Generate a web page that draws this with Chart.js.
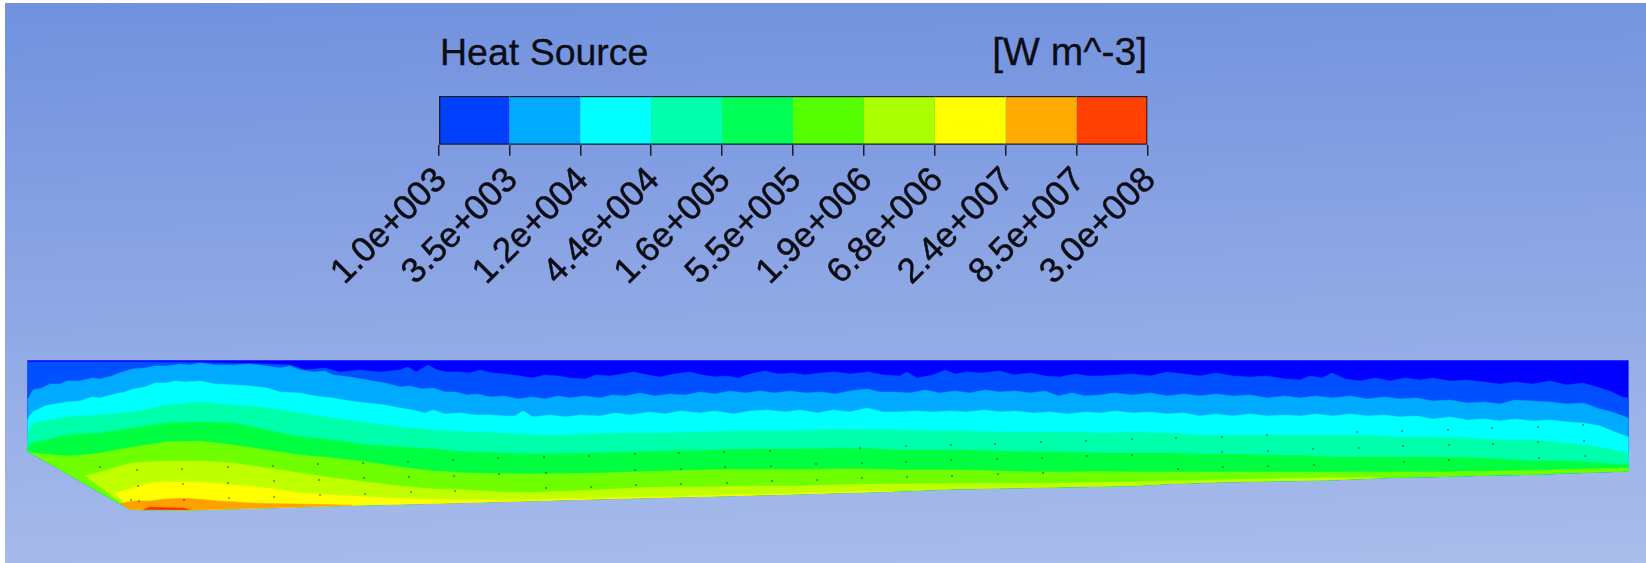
<!DOCTYPE html>
<html><head><meta charset="utf-8">
<script src="https://cdn.jsdelivr.net/npm/chart.js@4"></script>
<style>
html,body{margin:0;padding:0;width:1646px;height:563px;overflow:hidden;background:#fff}
#bg{position:absolute;left:5px;top:3px;right:0;bottom:0;background:linear-gradient(178.5deg,#7191de 0%,#aabdeb 100%)}
canvas{position:absolute}
.t{position:absolute;font:37.5px "Liberation Sans",Arial,sans-serif;color:#0c0c14;line-height:42px;white-space:nowrap;-webkit-text-stroke:0.3px #0c0c14}
</style></head><body>
<div id="bg"></div>
<div class="t" style="left:440px;top:31px">Heat Source</div>
<div class="t" style="right:499px;top:31px;font-size:39px">[W m^-3]</div>
<div style="position:absolute;left:250px;top:80px;width:950px;height:220px"><canvas id="bar"></canvas></div>
<div style="position:absolute;left:0;top:0;width:1646px;height:563px"><canvas id="field"></canvas></div>
<script>
const barTitle = 'Heat Source';
const tickLabels = ['1.0e+003','3.5e+003','1.2e+004','4.4e+004','1.6e+005','5.5e+005','1.9e+006','6.8e+006','2.4e+007','8.5e+007','3.0e+008'];
const legendColors = ['#0040ff','#00aaff','#00ffff','#00ffaa','#00ff55','#55ff00','#aaff00','#ffff00','#ffaa00','#ff4000'];
const binWidths = [1,1,1,1,1,1,1,1,1,1];
const bandColors = ['#0000ff','#0050ff','#00aaff','#00ffff','#00ffaa','#00ff40','#70ff00','#bfff00','#ffff00','#ffa000','#ff3000'];

// Outline of the section: [position along, height]
const topEdge = [[27.5,360.5],[1628,360.5]];
const bottomEdge = [[27.5,451],[130,509.5],[190,510],[243,508.5],[297,507],[352,505.3],[407,504],[460,502.7],[515,501.3],[568,499.7],[623,498.3],[677,497],[732,495.7],[786,494.3],[840,492.7],[893,491.3],[953,489],[1023,487.7],[1133,485.7],[1167,483.7],[1220,482],[1273,481],[1330,480],[1383,477.7],[1433,476.7],[1497,475],[1547,474],[1560,473.3],[1600,472],[1628,471]];

// Contour boundaries, top to bottom
const contourA = [[27.5,362],[140,362],[200,362.5],[267,364],[290,365],[305,370],[325,368],[340,372],[360,370],[380,372],[400,370],[408,367],[416,372],[428,365],[437,370],[447,372],[460,372],[470,373],[480,370],[492,373],[504,374],[520,376],[532,378],[545,375],[558,376],[570,378],[585,379],[596,375],[610,376],[622,374],[634,372],[648,375],[660,377],[674,374],[690,372],[702,375],[715,377],[727,376],[738,378],[750,374],[765,371],[778,374],[792,373],[805,375],[820,373],[835,372],[850,374],[868,372],[884,375],[900,376],[907,372],[917,378],[933,375],[945,370],[955,374],[967,372],[982,373],[1000,371],[1014,375],[1030,373],[1045,376],[1060,377],[1075,374],[1088,376],[1100,376],[1116,375],[1133,374],[1150,376],[1167,372],[1184,374],[1200,376],[1216,373],[1233,376],[1250,377],[1267,376],[1285,379],[1300,380],[1310,376],[1322,378],[1332,373],[1345,379],[1360,381],[1375,378],[1390,381],[1405,378],[1420,380],[1433,378],[1450,381],[1467,380],[1484,382],[1500,384],[1515,382],[1533,384],[1550,381],[1567,385],[1583,383],[1600,388],[1612,392],[1622,397],[1628,398]];
const contourB = [[27.5,400],[30,395],[33,390],[42,388],[50,384],[60,384],[67,381],[80,381],[92,378],[100,379],[112,376],[122,372],[133,369],[145,368],[155,366],[167,366],[180,364],[190,365],[200,363],[215,365],[233,365],[250,364],[267,366],[280,368],[290,366],[300,370],[315,372],[325,371],[333,375],[350,377],[367,380],[385,383],[400,387],[410,386],[422,389],[433,388],[445,392],[456,392],[467,395],[478,394],[490,397],[504,396],[518,399],[533,397],[545,399],[558,396],[570,398],[585,396],[600,398],[612,395],[625,396],[640,393],[655,396],[670,394],[685,395],[700,392],[715,394],[730,391],[745,393],[760,391],[775,393],[790,391],[805,393],[820,392],[835,394],[850,391],[867,389],[880,392],[895,392],[910,393],[925,390],[940,393],[955,391],[970,393],[985,390],[1000,392],[1015,391],[1030,393],[1045,391],[1058,396],[1072,393],[1085,396],[1100,395],[1115,393],[1133,395],[1150,393],[1167,396],[1184,394],[1200,396],[1216,394],[1233,396],[1250,395],[1267,398],[1285,396],[1300,398],[1315,396],[1333,398],[1350,396],[1367,399],[1385,397],[1400,399],[1416,398],[1433,401],[1450,400],[1467,403],[1484,402],[1500,404],[1515,400],[1533,401],[1550,402],[1567,404],[1583,403],[1600,409],[1612,412],[1628,418]];
const contourC = [[27.5,420],[30,415],[33,412],[45,406],[55,404],[67,402],[80,401],[92,397],[100,398],[115,394],[125,392],[133,389],[145,387],[155,383],[167,383],[175,381],[185,382],[200,381],[215,384],[233,385],[250,386],[267,388],[280,392],[300,393],[315,396],[333,398],[350,401],[367,403],[385,405],[400,408],[412,410],[425,413],[433,410],[445,414],[460,413],[475,415],[490,415],[505,416],[515,416],[523,411],[533,417],[550,415],[565,417],[580,415],[600,416],[615,413],[630,415],[650,412],[665,414],[680,411],[700,413],[715,411],[733,414],[750,411],[767,410],[785,412],[800,410],[818,413],[833,410],[850,412],[867,408],[883,412],[900,412],[915,411],[933,412],[950,411],[967,412],[985,410],[1000,412],[1015,411],[1033,413],[1050,412],[1067,414],[1085,412],[1100,413],[1116,411],[1133,413],[1150,412],[1167,414],[1184,413],[1200,416],[1216,414],[1233,416],[1250,414],[1267,416],[1285,415],[1300,416],[1316,414],[1333,416],[1350,414],[1367,416],[1385,415],[1400,417],[1416,416],[1433,419],[1450,417],[1467,420],[1484,419],[1500,421],[1515,419],[1533,421],[1550,420],[1567,422],[1583,423],[1600,426],[1615,432],[1628,437]];
const contourD = [[27.5,435],[33,423],[67,417],[100,415],[133,412],[167,405],[200,402],[233,405],[267,408],[300,413],[333,418],[367,423],[400,427],[433,430],[467,432],[500,433],[533,435],[567,435],[600,433.5],[633,433],[667,433],[700,432],[733,431],[767,431],[800,431],[833,429.5],[867,430],[900,430],[933,431],[967,431],[1000,432],[1033,432],[1067,432],[1100,433],[1133,432.5],[1167,433],[1200,435],[1233,435],[1267,435],[1300,435],[1333,435],[1367,435.5],[1400,437],[1433,437],[1467,438],[1500,440],[1533,440],[1567,443],[1600,447],[1628,453]];
const contourE = [[27.5,448],[33,443],[67,435],[100,433],[133,428],[167,423],[200,422],[233,423],[267,430],[300,437],[333,440],[367,445],[400,447],[433,449],[467,452],[500,453],[533,454],[567,453.5],[600,453],[633,452],[667,451],[700,450.5],[733,449.5],[767,449],[800,449],[833,448.5],[867,448.5],[900,450],[933,450],[967,450],[1000,451],[1033,452],[1067,452],[1100,453],[1133,453],[1167,453],[1200,454],[1233,454],[1267,455],[1300,455.5],[1333,457],[1367,457],[1400,457],[1433,457],[1467,457.5],[1500,459],[1533,461],[1567,461],[1600,463],[1628,465]];
const contourF = [[27.5,451],[33,453],[67,456],[83,455],[100,453],[133,447],[167,442],[200,441],[233,445],[267,450],[300,455],[333,458],[367,462],[400,467],[433,471],[467,473],[500,473.5],[533,474],[567,473.5],[600,473],[633,472],[667,471],[700,470],[733,469.5],[767,469.5],[800,469.5],[833,469],[867,469],[900,470],[933,470],[967,470],[1000,471],[1033,472],[1067,472],[1100,471.5],[1133,472],[1167,472],[1200,472],[1233,472],[1267,472],[1300,472],[1367,472],[1433,472],[1500,471],[1550,470],[1600,468.5],[1628,468]];
const contourG = [[85,476],[100,472],[117,467],[133,463],[167,461],[200,461],[233,463],[267,468],[300,473],[333,478],[367,482],[400,486],[433,489],[467,490],[500,492],[533,492.5],[567,491],[600,490],[633,488],[667,487],[700,487],[733,486.5],[767,486],[800,486],[833,485],[867,484],[900,484],[967,483.5],[1033,483.5],[1100,482.5],[1133,482],[1167,481],[1267,479],[1330,477.5],[1383,477.7]];
const contourH = [[115,493],[133,488],[150,483],[167,482],[200,482],[233,485],[267,488],[300,493],[333,495],[367,497],[400,498.5],[420,499.3],[467,500],[517,499.7],[570,498.5],[623,497.5],[677,496.3],[732,495],[786,493.7],[840,492],[893,491.3]];
const contourI = [[120,503.5],[133,501],[150,501],[167,499],[183,498.3],[200,499.3],[217,501],[233,501.7],[243,502.7],[267,503.5],[297,504],[333,504.7],[352,505.3]];
const contourJ = [[143,509.8],[150,507],[167,507.7],[183,508],[190,510]];
const contours = [contourA,contourB,contourC,contourD,contourE,contourF,contourG,contourH,contourI,contourJ];

// Mesh specks
const specksX = [100,137,182,228,273,318,363,408,453,498,544,589,635,679,724,770,860,138,183,228,274,319,364,409,454,499,546,635,681,725,771,816,862,131,139,184,229,274,320,365,411,455,546,591,636,681,727,772,817,862,906,951,995,1041,1086,1132,1176,1222,1267,1357,906,951,997,1042,1087,1132,1222,1268,1313,1359,907,952,998,1043,1178,1223,1268,1314,1402,1448,1492,1538,1583,1403,1449,1493,1538,1584,1404,1449,1539,1585];
const specksY = [467,470,469,467,466,464,463,462,460,458,457,456,454,453,452,451,448,486,484,483,481,480,478,477,476,474,473,470,469,467,466,464,463,500,501,500,498,497,495,494,492,491,488,487,485,484,483,481,480,478,446,445,444,442,441,439,438,437,435,432,462,460,459,458,456,455,452,451,449,448,477,476,474,473,469,467,466,465,431,430,428,427,425,446,445,444,442,441,462,460,458,456];

function xyOf(p){ return {x:p[0], y:p[1]}; }
function regionOf(curve){
  const s = curve[0][0], e = curve[curve.length-1][0];
  const under = bottomEdge.filter(p => p[0] >= s && p[0] <= e).reverse();
  return curve.concat(under).map(xyOf);
}
const regions = [topEdge].concat(contours).map(regionOf);

const fieldSets = regions.map((r,i)=>({
  type:'scatter', data:r, showLine:true, fill:'shape', tension:0, order:-i,
  backgroundColor:bandColors[i], borderColor:bandColors[i], borderWidth:0.5, pointRadius:0
}));
fieldSets.push({type:'scatter', label:'mesh', order:-100, data:specksX.map((x,i)=>({x,y:specksY[i]})),
  showLine:false, pointRadius:1, pointBorderWidth:0, pointBackgroundColor:'rgba(0,50,30,0.5)'});

Chart.defaults.animation = false;
new Chart(document.getElementById('field'),{
  type:'scatter',
  data:{datasets:fieldSets},
  options:{responsive:true,maintainAspectRatio:false,animation:false,
    layout:{padding:0,autoPadding:false},
    plugins:{legend:{display:false},tooltip:{enabled:false},title:{display:false}},
    scales:{
      x:{type:'linear',min:0,max:1646,display:false},
      y:{type:'linear',min:0,max:563,reverse:true,display:false}
    }}
});

new Chart(document.getElementById('bar'),{
  type:'bar',
  data:{labels:[barTitle],datasets:binWidths.map((w,i)=>({
    data:[w],backgroundColor:legendColors[i],borderColor:'#1c1c24',
    borderSkipped:false,
    borderWidth:{top:1.5,bottom:1.5,left:i===0?1.5:0,right:i===9?1.5:0},
    categoryPercentage:1,barPercentage:1,stack:'s'
  }))},
  options:{indexAxis:'y',responsive:true,maintainAspectRatio:false,animation:false,
    layout:{padding:{left:188.5,right:52.5,top:16,bottom:0},autoPadding:false},
    plugins:{legend:{display:false},tooltip:{enabled:false},title:{display:false}},
    scales:{
      y:{display:false,stacked:true},
      x:{type:'linear',min:0,max:10,stacked:true,position:'bottom',
        afterFit:s=>{s.height=155.3;},
        afterBuildTicks:s=>{s.ticks=tickLabels.map((_,i)=>({value:i}));},
        border:{display:false},
        grid:{drawOnChartArea:false,drawTicks:true,tickLength:11,color:'#1c1c24',lineWidth:1.5},
        ticks:{autoSkip:false,minRotation:45,maxRotation:45,padding:4,labelOffset:3,color:'#0c0c14',
          textStrokeWidth:0.5,textStrokeColor:'#0c0c14',
          font:{family:'"Liberation Sans",Arial,sans-serif',size:35},
          callback:(v,i)=>tickLabels[i]}
      }
    }}
});
</script>
</body></html>
